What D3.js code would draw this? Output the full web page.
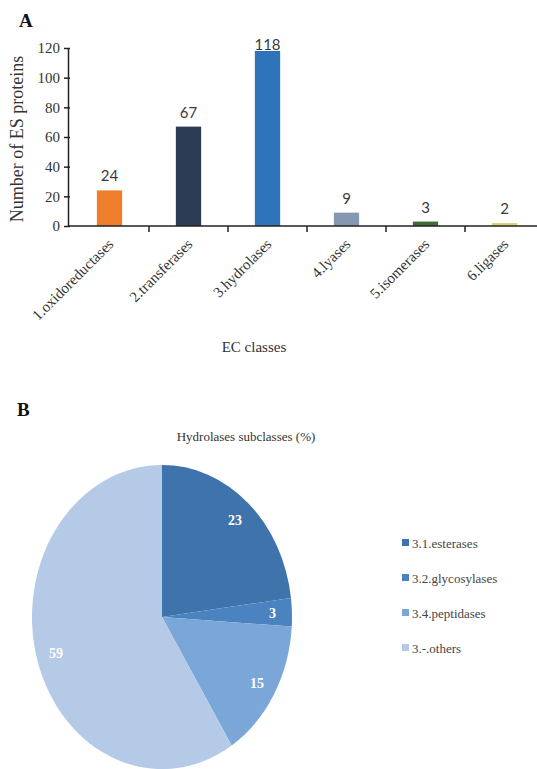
<!DOCTYPE html>
<html>
<head>
<meta charset="utf-8">
<script src="https://cdn.jsdelivr.net/npm/d3@7"></script>
<style>
  html, body { margin: 0; padding: 0; background: #fff; }
  svg { display: block; }
</style>
</head>
<body>
<svg id="chart" width="537" height="769"></svg>
<script>
// Panel A: EC classes of ES proteins
const ecClasses = ["1.oxidoreductases", "2.transferases", "3.hydrolases", "4.lyases", "5.isomerases", "6.ligases"];
const ecCounts = [24, 67, 118, 9, 3, 2];
const ecColors = ["#ef7e2c", "#2c3c55", "#2f74ba", "#8597b1", "#3f6d33", "#d9d36c"];
const yTicks = [0, 20, 40, 60, 80, 100, 120];

// Panel B: hydrolases subclasses (%)
const subclasses = ["3.1.esterases", "3.2.glycosylases", "3.4.peptidases", "3.-.others"];
const subShares = [23, 3, 15, 59];
const subColors = ["#3e73ab", "#4a83c0", "#7ba6d8", "#b4cae6"];

const svg = d3.select("#chart");
svg.append("rect").attr("width", 537).attr("height", 769).attr("fill", "#fff");

const serif = "'Liberation Serif', 'Times New Roman', serif";

// ---------- Panel A ----------
const x = d3.scaleBand().domain(ecClasses).range([70, 544]).paddingInner(0.68).paddingOuter(0.34);
const y = d3.scaleLinear().domain([0, 120]).range([226, 48]);
const step = x.step();

svg.append("text").attr("x", 19).attr("y", 27)
  .attr("font-family", serif).attr("font-weight", "bold").attr("font-size", 19)
  .attr("fill", "#111").text("A");

// bars
svg.append("g").selectAll("rect").data(ecClasses).join("rect")
  .attr("x", d => x(d))
  .attr("y", (d, i) => y(ecCounts[i]))
  .attr("width", x.bandwidth())
  .attr("height", (d, i) => y(0) - y(ecCounts[i]))
  .attr("fill", (d, i) => ecColors[i]);

// value labels
svg.append("g").selectAll("text").data(ecClasses).join("text")
  .attr("x", d => x(d) + x.bandwidth() / 2)
  .attr("y", (d, i) => Math.max(y(ecCounts[i]) - 9, y(120) + 2))
  .attr("text-anchor", "middle")
  .attr("font-family", "Lato, 'Noto Sans', sans-serif").attr("font-size", 15)
  .attr("fill", "#3a3a3a")
  .text((d, i) => ecCounts[i]);

// y axis
const yAxis = svg.append("g").attr("transform", "translate(68,0)")
  .call(d3.axisLeft(y).tickValues(yTicks).tickSize(4).tickPadding(4).tickSizeOuter(0));
yAxis.select(".domain").attr("stroke", "#222").attr("stroke-width", 1.5);
yAxis.selectAll(".tick line").attr("x1", -4).attr("x2", 2).attr("stroke", "#222").attr("stroke-width", 1.5);
yAxis.selectAll(".tick text").attr("font-family", serif).attr("font-size", 15).attr("fill", "#333");

// x axis with rotated category labels
const xAxis = svg.append("g").attr("transform", `translate(0,${y(0)})`)
  .call(d3.axisBottom(x).tickSize(0).tickSizeOuter(0));
xAxis.select(".domain").attr("d", "M68,0H537").attr("stroke", "#222").attr("stroke-width", 1.5);
xAxis.selectAll(".tick text")
  .attr("x", 0).attr("y", 0).attr("dy", 0)
  .attr("transform", "translate(5,19) rotate(-45)")
  .attr("text-anchor", "end")
  .attr("font-family", serif).attr("font-size", 15).attr("fill", "#333");

// category boundary ticks
svg.append("g").selectAll("line").data(ecClasses.slice(1)).join("line")
  .attr("x1", d => x(d) - x.paddingInner() * step / 2)
  .attr("x2", d => x(d) - x.paddingInner() * step / 2)
  .attr("y1", y(0)).attr("y2", y(0) + 6)
  .attr("stroke", "#222").attr("stroke-width", 1.5);

// axis titles
svg.append("text")
  .attr("transform", `translate(23,${(y(0) + y(120)) / 2 + 2}) rotate(-90)`)
  .attr("text-anchor", "middle")
  .attr("font-family", serif).attr("font-size", 18).attr("fill", "#333")
  .text("Number of ES proteins");

svg.append("text").attr("x", 254).attr("y", 352)
  .attr("text-anchor", "middle")
  .attr("font-family", serif).attr("font-size", 15).attr("fill", "#333")
  .text("EC classes");

// ---------- Panel B ----------
svg.append("text").attr("x", 17).attr("y", 416)
  .attr("font-family", serif).attr("font-weight", "bold").attr("font-size", 19)
  .attr("fill", "#111").text("B");

svg.append("text").attr("x", 246).attr("y", 441)
  .attr("text-anchor", "middle")
  .attr("font-family", serif).attr("font-size", 13).attr("fill", "#333")
  .text("Hydrolases subclasses (%)");

const R = 130, yStretch = 1.17;
const pieData = d3.pie().sort(null).value(d => d)(subShares);
const arc = d3.arc().innerRadius(0).outerRadius(R);
const labelArc = d3.arc().innerRadius(R * 0.85).outerRadius(R * 0.85);

const pieG = svg.append("g").attr("transform", `translate(162,617)`);
pieG.append("g").attr("transform", `scale(1,${yStretch})`)
  .selectAll("path").data(pieData).join("path")
  .attr("d", arc)
  .attr("fill", (d, i) => subColors[i]);

pieG.append("g").selectAll("text").data(pieData).join("text")
  .attr("x", d => labelArc.centroid(d)[0])
  .attr("y", d => labelArc.centroid(d)[1] * yStretch)
  .attr("dy", "0.35em")
  .attr("text-anchor", "middle")
  .attr("font-family", serif).attr("font-weight", "bold").attr("font-size", 14)
  .attr("fill", "#fff")
  .text(d => d.data);

// legend
const legend = svg.append("g").selectAll("g").data(subclasses).join("g")
  .attr("transform", (d, i) => `translate(402,${543 + i * 35})`);
legend.append("rect").attr("x", 0).attr("y", -4).attr("width", 7).attr("height", 7)
  .attr("fill", (d, i) => subColors[i]);
legend.append("text").attr("x", 10).attr("y", 0).attr("dy", "0.35em")
  .attr("font-family", serif).attr("font-size", 13).attr("fill", "#444")
  .text(d => d);
</script>
</body>
</html>
